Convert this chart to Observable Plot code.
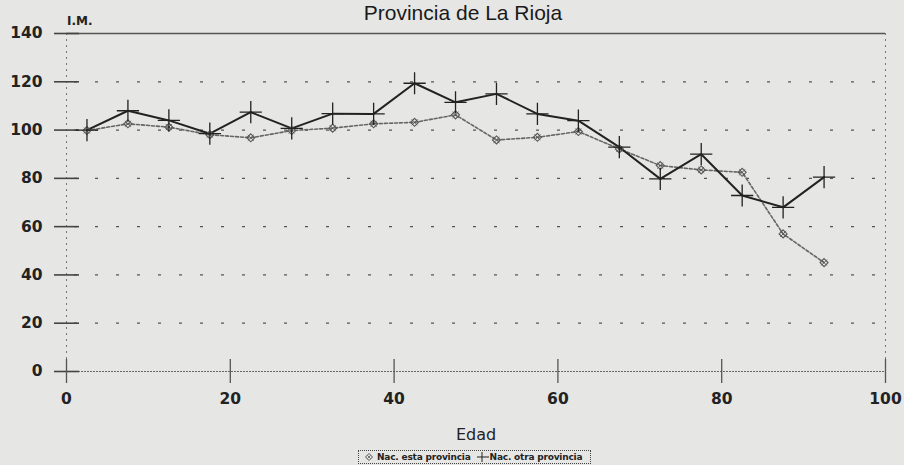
<!DOCTYPE html>
<html><head><meta charset="utf-8">
<script src="https://cdn.jsdelivr.net/npm/d3@7"></script>
<script src="https://cdn.jsdelivr.net/npm/@observablehq/plot@0.6"></script>
<style>
body{margin:0;background:#e6e6e4;overflow:hidden}
#wrap{position:relative;width:904px;height:465px}
.ov{position:absolute;color:#222;white-space:nowrap}
#legend{position:absolute;left:358px;top:450px;width:231px;height:12px;border:1px dotted #444;
  font:bold 9px/12px "DejaVu Sans",sans-serif;letter-spacing:-0.2px;color:#222;display:flex;align-items:center}
#legend svg{display:block}
</style></head><body>
<div id="wrap"></div>
<script>
const edades = [2.5,7.5,12.5,17.5,22.5,27.5,32.5,37.5,42.5,47.5,52.5,57.5,62.5,67.5,72.5,77.5,82.5,87.5,92.5];
const estaProvincia = [99.8,102.6,101.2,98.1,96.8,99.8,100.8,102.6,103.2,106.3,95.9,97.0,99.4,92.2,85.3,83.5,82.5,57.0,45.1];
const otraProvincia = [100,108,104,98.5,107.4,100.7,106.8,106.7,119.4,111.5,115,106.7,103.9,92.9,79.8,90,72.9,68,80.5];
const xTicks = [0,20,40,60,80,100];
const yTicks = [0,20,40,60,80,100,120,140];
const gridValues = [20,40,60,80,100,120];
const titulo = "Provincia de La Rioja";
const yLabel = "I.M.";
const xLabel = "Edad";
const seriesNames = ["Nac. esta provincia","Nac. otra provincia"];

const rows = [
  ...edades.map((e,i)=>({edad:e, im:estaProvincia[i], serie:seriesNames[0]})),
  ...edades.map((e,i)=>({edad:e, im:otraProvincia[i], serie:seriesNames[1]}))
];
const esta = rows.filter(d=>d.serie===seriesNames[0]);
const otra = rows.filter(d=>d.serie===seriesNames[1]);

const chart = Plot.plot({
  width: 904, height: 465,
  marginLeft: 66, marginRight: 19, marginTop: 33, marginBottom: 94,
  style: {background:"transparent", fontFamily:"DejaVu Sans", overflow:"visible"},
  x: {domain:[0,100], label:null},
  y: {domain:[0,140], label:null},
  marks: [
    Plot.ruleY(gridValues, {stroke:"#555", strokeWidth:1.2, strokeDasharray:"3,18", strokeDashoffset:-8}),
    Plot.ruleX([0], {stroke:"#777", strokeWidth:1, strokeDasharray:"2,4"}),
    Plot.ruleX([100], {stroke:"#777", strokeWidth:1, strokeDasharray:"2,4"}),
    Plot.ruleY([0], {stroke:"#666", strokeWidth:1.2, strokeDasharray:"2,1"}),
    Plot.ruleY([140], {stroke:"#555", strokeWidth:1.6}),
    Plot.axisY({ticks:yTicks, tickSize:25, dx:13, tickFormat:()=>"", stroke:"#444", strokeWidth:1.6, label:null}),
    Plot.axisX({ticks:xTicks, tickSize:24, dy:-12, tickFormat:()=>"", stroke:"#555", strokeWidth:1.3, label:null}),
    Plot.axisY({ticks:yTicks, tickSize:0, tickPadding:24, fontSize:15.5, fontWeight:"bold", fill:"#222", label:null}),
    Plot.axisX({ticks:xTicks, tickSize:0, tickPadding:21, fontSize:15.5, fontWeight:"bold", fill:"#222", label:null}),
    Plot.line(esta, {x:"edad", y:"im", stroke:"#666", strokeWidth:1.6, strokeDasharray:"3,2"}),
    Plot.line(otra, {x:"edad", y:"im", stroke:"#222", strokeWidth:2}),
    Plot.dot(esta, {x:"edad", y:"im", symbol:"diamond2", r:3.6, stroke:"#555", strokeWidth:1.1, fill:"none"}),
    Plot.dot(esta, {x:"edad", y:"im", symbol:"times", r:2.8, stroke:"#555", strokeWidth:0.9}),
    Plot.dot(otra, {x:"edad", y:"im", symbol:"plus", r:7.2, stroke:"#222", strokeWidth:1.3})
  ]
});

const wrap = document.getElementById("wrap");
wrap.appendChild(chart);

function ov(text, css){
  const d = document.createElement("div");
  d.className = "ov"; d.textContent = text;
  Object.assign(d.style, css);
  wrap.appendChild(d);
  return d;
}
ov(titulo, {left:"463px", top:"2px", transform:"translateX(-50%)", font:'21px/21px "Liberation Sans",Arial,sans-serif', color:"#1a1a1a"});
ov(yLabel, {left:"67px", top:"15px", font:'bold 12px/12px "DejaVu Sans",sans-serif'});
ov(xLabel, {left:"476px", top:"427px", transform:"translateX(-50%)", font:'16px/16px "DejaVu Sans",sans-serif'});

const lg = document.createElement("div");
lg.id = "legend";
lg.innerHTML =
  `<svg width="14" height="10" style="margin-left:3px"><path d="M7,1.5L10.5,5L7,8.5L3.5,5Z" fill="none" stroke="#555" stroke-width="1"/><path d="M5.5,3.5L8.5,6.5M8.5,3.5L5.5,6.5" stroke="#555" stroke-width="0.8"/></svg>` +
  `<span style="margin-left:1px">${seriesNames[0]}</span>` +
  `<svg width="14" height="12" style="margin-left:5px"><path d="M1,6H13" stroke="#222" stroke-width="1"/><path d="M6,1V11" stroke="#222" stroke-width="1"/></svg>` +
  `<span>${seriesNames[1]}</span>`;
wrap.appendChild(lg);
</script>
</body></html>
